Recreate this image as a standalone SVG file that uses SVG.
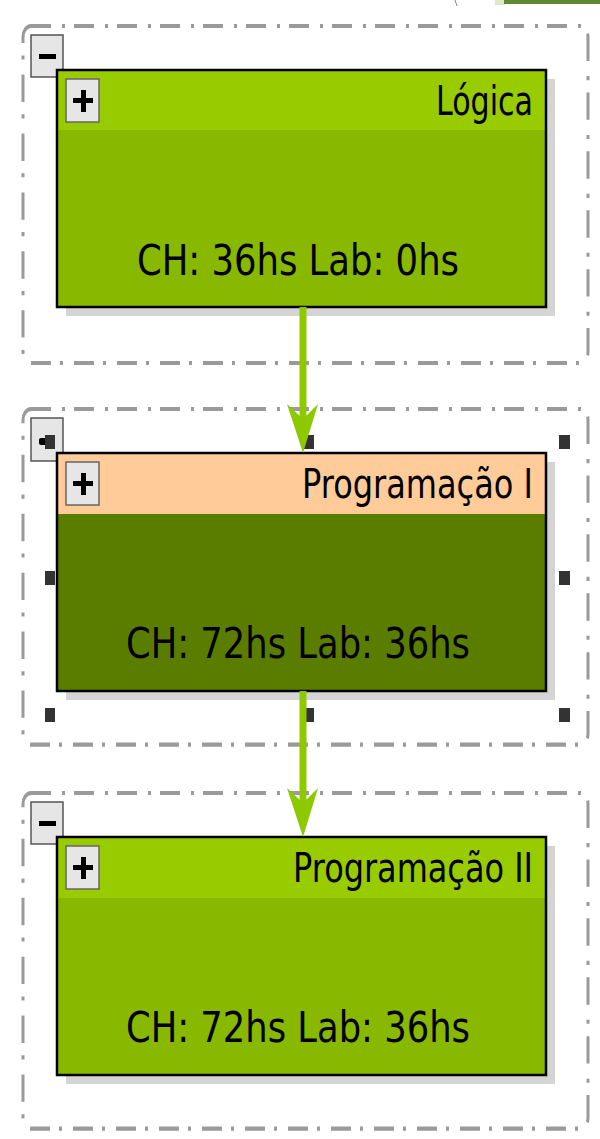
<svg xmlns="http://www.w3.org/2000/svg" width="600" height="1139" viewBox="0 0 600 1139">
<defs>
<style>
.grp{fill:none;stroke:#9a9a9a;stroke-width:3;stroke-dasharray:20 11 3 9;stroke-linecap:butt}
.btn{fill:#e6e6e6;stroke:#555;stroke-width:1.5}
.pbtn{fill:#e6e6e6;stroke:#666;stroke-width:1.5}
.shadow{fill:#d4d4d4}
.box{stroke:#000;stroke-width:2.5}
.sign{fill:#000}
.handle{fill:#333}
.title{font-family:"DejaVu Sans","Liberation Sans",sans-serif;font-size:40px;fill:#000;text-anchor:end}
.info{font-family:"DejaVu Sans","Liberation Sans",sans-serif;font-size:42px;fill:#000}
.conn{stroke:#8dc800;stroke-width:7;fill:none}
.head{fill:#8dc800}
</style>
</defs>
<g id="topbits">
<path d="M455 0 Q456 3 457 6" stroke="#888" stroke-width="1" fill="none"/>
<rect x="495" y="0" width="10" height="5" fill="#dde8c8"/>
<rect x="504" y="0" width="96" height="4" fill="#5b8a32"/>
</g>
<g id="group1">
<rect class="grp" x="23" y="0" width="565" height="246" rx="8" transform="translate(0,26) scale(1,1.37)"/>
<rect class="btn" x="31" y="35" width="32" height="42"/>
<rect class="sign" x="39" y="54" width="17" height="5"/>
</g>
<g id="node-logica">
<rect class="shadow" x="66" y="79" width="489" height="237"/>
<rect x="57" y="70" width="489" height="237" fill="#88b800"/>
<rect x="57" y="70" width="489" height="60" fill="#99cc00"/>
<rect class="box" x="57" y="70" width="489" height="237" fill="none"/>
<rect class="pbtn" x="66" y="79" width="33" height="43"/>
<rect class="sign" x="73" y="98" width="20" height="5"/>
<rect class="sign" x="81" y="90" width="5" height="22"/>
<text class="title" x="533" y="115" textLength="97" lengthAdjust="spacingAndGlyphs">Lógica</text>
<text class="info" x="137" y="275" textLength="322" lengthAdjust="spacingAndGlyphs">CH: 36hs Lab: 0hs</text>
</g>
<g id="group2">
<rect class="grp" x="23" y="0" width="565" height="245" rx="8" transform="translate(0,409) scale(1,1.37)"/>
<rect class="btn" x="31" y="418" width="32" height="43"/>
<rect class="sign" x="39" y="438" width="16" height="7" rx="2"/>
</g>
<g id="node-prog1">
<rect class="shadow" x="66" y="462" width="489" height="238"/>
<rect x="57" y="453" width="489" height="238" fill="#5a7d00"/>
<rect x="57" y="453" width="489" height="61" fill="#ffcc99"/>
<rect class="box" x="57" y="453" width="489" height="238" fill="none"/>
<rect class="pbtn" x="66" y="462" width="33" height="43"/>
<rect class="sign" x="73" y="481" width="20" height="5"/>
<rect class="sign" x="81" y="473" width="5" height="22"/>
<text class="title" x="533" y="498" textLength="231" lengthAdjust="spacingAndGlyphs">Programação I</text>
<text class="info" x="126" y="658" textLength="344" lengthAdjust="spacingAndGlyphs">CH: 72hs Lab: 36hs</text>
</g>
<g id="group3">
<rect class="grp" x="23" y="0" width="565" height="245" rx="8" transform="translate(0,793) scale(1,1.37)"/>
<rect class="btn" x="31" y="802" width="32" height="42"/>
<rect class="sign" x="39" y="821" width="17" height="5"/>
</g>
<g id="node-prog2">
<rect class="shadow" x="66" y="846" width="489" height="238"/>
<rect x="57" y="837" width="489" height="238" fill="#88b800"/>
<rect x="57" y="837" width="489" height="61" fill="#99cc00"/>
<rect class="box" x="57" y="837" width="489" height="238" fill="none"/>
<rect class="pbtn" x="66" y="846" width="33" height="43"/>
<rect class="sign" x="73" y="865" width="20" height="5"/>
<rect class="sign" x="81" y="857" width="5" height="22"/>
<text class="title" x="533" y="882" textLength="240" lengthAdjust="spacingAndGlyphs">Programação II</text>
<text class="info" x="126" y="1042" textLength="344" lengthAdjust="spacingAndGlyphs">CH: 72hs Lab: 36hs</text>
</g>
<g id="selection-handles">
<rect class="handle" x="45" y="435" width="10" height="14"/>
<rect class="handle" x="304" y="435" width="10" height="14"/>
<rect class="handle" x="559" y="435" width="11" height="14"/>
<rect class="handle" x="45" y="571" width="10" height="14"/>
<rect class="handle" x="559" y="571" width="11" height="14"/>
<rect class="handle" x="45" y="708" width="10" height="14"/>
<rect class="handle" x="304" y="708" width="10" height="14"/>
<rect class="handle" x="559" y="708" width="11" height="14"/>
</g>
<g id="connectors">
<line class="conn" x1="303" y1="307" x2="303" y2="425"/>
<polygon class="head" points="287,404 303,453 318,404 303,419"/>
<line class="conn" x1="303" y1="691" x2="303" y2="808"/>
<polygon class="head" points="287,788 303,837 318,788 303,803"/>
</g>
</svg>
